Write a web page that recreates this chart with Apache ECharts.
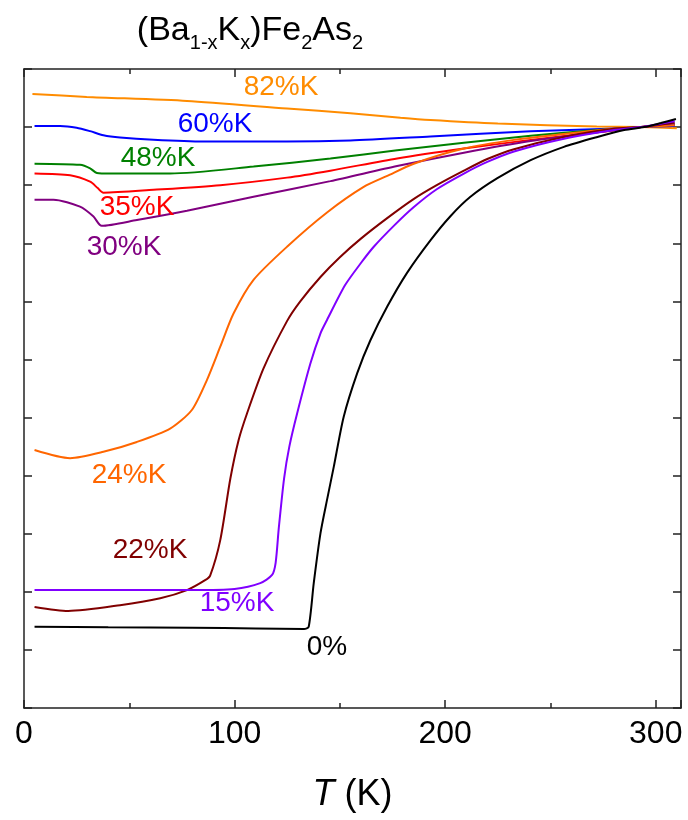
<!DOCTYPE html>
<html>
<head>
<meta charset="utf-8">
<script src="https://cdn.jsdelivr.net/npm/echarts@6/dist/echarts.min.js"></script>
<style>
  html, body { margin: 0; padding: 0; background: #fff; }
  #main { width: 688px; height: 820px; }
</style>
</head>
<body>
<div id="main"></div>
<script>
// resistivity curves, y in tick units (normalised), x = T (K)
const k0 = [[5,1.40],[40,1.39],[80,1.38],[110,1.37],[133,1.36],[135.2,1.40],[137.6,2.15],[140.8,3.01],[144,3.6],[147.1,4.15],[151.8,5.01],[158.2,5.76],[164.5,6.33],[172.5,6.91],[181.9,7.49],[193,8.05],[202.6,8.47],[212,8.80],[224.8,9.12],[240.6,9.43],[256.4,9.66],[272.3,9.83],[285,9.95],[294.5,10.0],[302.4,10.07],[309.6,10.14]];
const k15 = [[5,2.03],[80,2.03],[100,2.05],[112.2,2.15],[117.8,2.29],[119.5,2.5],[121,3.1],[123.5,3.95],[126,4.5],[129.7,5.07],[136,5.93],[140.8,6.45],[143.9,6.68],[152.5,7.28],[160,7.66],[166.1,7.94],[175.6,8.30],[185,8.62],[196,8.93],[208.9,9.20],[220,9.40],[232.7,9.58],[256.4,9.80],[280.2,9.95],[293,10.0],[309,10.10]];
const k22 = [[5,1.74],[21,1.67],[45.6,1.77],[64.7,1.89],[77.4,2.03],[86,2.20],[88.4,2.28],[93.2,2.89],[98,3.95],[101.9,4.61],[105.9,5.07],[113.8,5.85],[124.9,6.66],[131.2,7.0],[140.8,7.42],[150,7.76],[160,8.08],[172,8.42],[185,8.76],[196,9.0],[208.9,9.25],[220,9.45],[232.7,9.62],[256.4,9.83],[280,9.97],[293,10.0],[309,10.08]];
const k24 = [[5,4.44],[21.9,4.30],[37.7,4.41],[53.6,4.58],[69.4,4.81],[79.7,5.13],[86.9,5.65],[93.2,6.22],[99.5,6.79],[109,7.37],[124.9,7.94],[143.9,8.53],[161.3,8.97],[172.5,9.16],[185.1,9.37],[208.9,9.63],[232.7,9.78],[256.4,9.88],[280,9.97],[293,10.0],[309,10.03]];
const k30 = [[5,8.75],[14,8.75],[26.6,8.63],[33,8.46],[36.9,8.30],[53.6,8.40],[77.4,8.56],[109,8.80],[145.5,9.07],[177.2,9.33],[208.9,9.56],[240.6,9.76],[272.3,9.91],[293,10.0],[309,10.05]];
const k35 = [[5,9.20],[21.9,9.17],[31.4,9.06],[35,8.95],[37.7,8.87],[61.5,8.92],[93.2,9.00],[124.9,9.13],[145.5,9.25],[177.2,9.46],[208.9,9.63],[240.6,9.78],[272.3,9.91],[293,10.0],[309,10.04]];
const k48 = [[5,9.37],[26.6,9.35],[31.4,9.29],[34.6,9.21],[40.9,9.20],[69.4,9.20],[109,9.32],[145.5,9.46],[177.2,9.60],[208.9,9.73],[240.6,9.85],[272.3,9.95],[293,10.0],[309,10.05]];
const k60 = [[5,10.02],[17.1,10.02],[25,9.99],[31.4,9.93],[37.7,9.86],[45.6,9.82],[61.5,9.78],[85.3,9.75],[124.9,9.75],[155,9.77],[193,9.84],[240.6,9.93],[285,9.98],[293,10.0],[309,10.02]];
const k82 = [[4,10.57],[29.8,10.52],[77.4,10.45],[124.9,10.32],[155,10.24],[178.8,10.16],[193,10.12],[225,10.06],[272,10.01],[293,10.0],[310,9.98]];

const names = ['0%', '15%K', '22%K', '24%K', '30%K', '35%K', '48%K', '60%K', '82%K'];
const curves = [k0, k15, k22, k24, k30, k35, k48, k60, k82];
const colors = ['#000000', '#8000ff', '#800000', '#ff6600', '#800080', '#ff0000', '#008000', '#0000ff', '#ff8c00'];

const xTicks = [0, 100, 200, 300];

const FONT = 'Liberation Sans, Arial, sans-serif';

let chart = echarts.init(document.getElementById('main'));

// label positions (px) for each curve
const labelPos = [[327, 647], [237, 603], [150, 550], [129, 475], [124, 247], [137, 207], [158, 158], [215, 124], [281, 87]];

let axisLine = { show: true, onZero: false, lineStyle: { color: '#222', width: 1.5 } };
let tick = { show: true, inside: true, length: 8, lineStyle: { color: '#222', width: 1.5 } };
let minor = { show: true, splitNumber: 2, length: 5, lineStyle: { color: '#222', width: 1.5 } };

chart.setOption({
  animation: false,
  grid: { left: 24, right: 7, top: 69, bottom: 112, containLabel: false },
  xAxis: [
    {
      type: 'value', position: 'bottom', min: 0, max: 312, interval: 100,
      axisLine: axisLine,
      axisTick: tick,
      minorTick: minor,
      splitLine: { show: false },
      axisLabel: {
        show: true, margin: 10, fontSize: 32, fontFamily: FONT, color: '#000',
        formatter: function (v) { return xTicks.indexOf(v) >= 0 ? String(v) : ''; }
      },
      name: '{i|T} (K)',
      nameLocation: 'middle',
      nameGap: 87,
      nameTextStyle: {
        fontSize: 36, fontFamily: FONT, color: '#000', verticalAlign: 'middle',
        rich: { i: { fontSize: 36, fontFamily: FONT, fontStyle: 'italic', color: '#000' } }
      }
    },
    {
      type: 'value', position: 'top', min: 0, max: 312, interval: 100,
      axisLine: axisLine,
      axisTick: tick,
      minorTick: minor,
      splitLine: { show: false },
      axisLabel: { show: false }
    }
  ],
  yAxis: [
    {
      type: 'value', position: 'left', min: 0, max: 11, interval: 1,
      axisLine: axisLine,
      axisTick: tick,
      splitLine: { show: false },
      axisLabel: { show: false }
    },
    {
      type: 'value', position: 'right', min: 0, max: 11, interval: 1,
      axisLine: axisLine,
      axisTick: tick,
      splitLine: { show: false },
      axisLabel: { show: false }
    }
  ],
  series: curves.map(function (d, i) {
    return {
      name: names[i],
      type: 'line',
      xAxisIndex: 0,
      yAxisIndex: 0,
      data: d,
      showSymbol: false,
      smooth: 0.25,
      lineStyle: { color: colors[i], width: 2 },
      itemStyle: { color: colors[i] },
      z: 10 - i
    };
  }),
  graphic: [
    {
      type: 'text',
      x: 250, y: 14,
      style: {
        text: '{m|(Ba}{s|1-x}{m|K}{s|x}{m|)Fe}{s|2}{m|As}{s|2}',
        align: 'center',
        verticalAlign: 'top',
        fill: '#000',
        rich: {
          m: { fontSize: 34, fontFamily: FONT, fill: '#000', verticalAlign: 'top' },
          s: { fontSize: 20, fontFamily: FONT, fill: '#000', verticalAlign: 'top', padding: [19, 0, 0, 0] }
        }
      }
    }
  ].concat(names.map(function (n, i) {
    return {
      type: 'text',
      x: labelPos[i][0], y: labelPos[i][1],
      z: 100,
      style: {
        text: n, fill: colors[i], fontSize: 28, fontFamily: FONT,
        align: 'center', verticalAlign: 'middle'
      }
    };
  }))
});
</script>
</body>
</html>
